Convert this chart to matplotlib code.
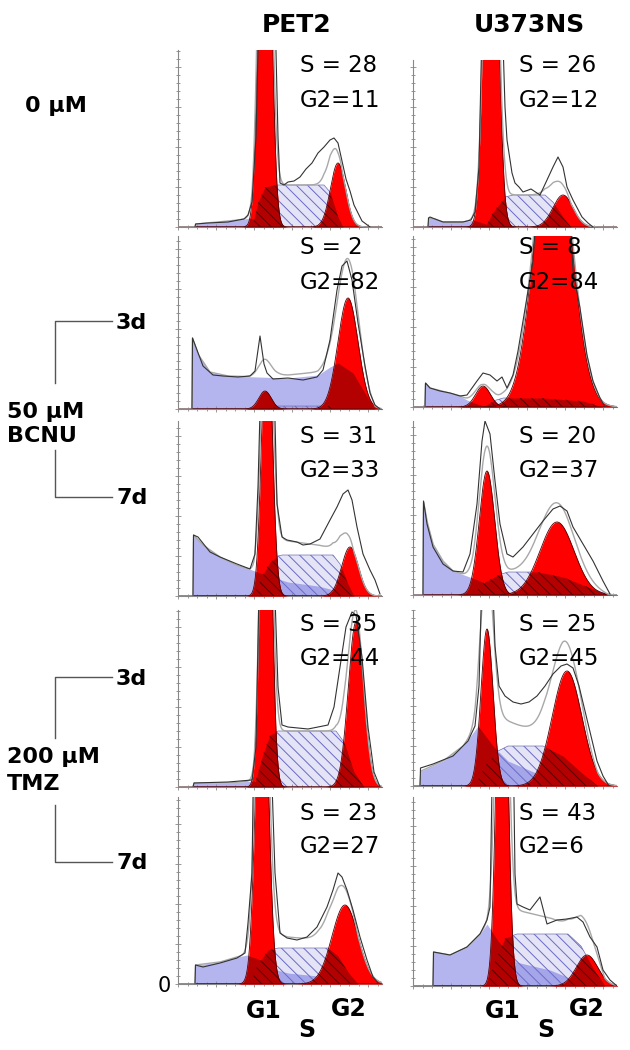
import numpy as np
import matplotlib
matplotlib.use('Agg')
import matplotlib.pyplot as plt
from matplotlib.ticker import MultipleLocator

plt.rcParams['font.family'] = ['DejaVu Sans']
plt.rcParams['hatch.linewidth'] = 0.7

# ---------------- data (x: channel, y: counts; panels in row-major order) ----
cell_lines = ['PET2', 'U373NS']
s_pct = [28, 26, 2, 8, 31, 20, 35, 25, 23, 43]
g2_pct = [11, 12, 82, 84, 33, 37, 44, 45, 27, 6]

g1_center = [87, 78, 87, 70, 89, 74, 88, 74, 84, 89]
g1_height = [540, 535, 18, 21, 290, 124, 500, 157, 374, 436]
g1_sigma = [5.3, 5.9, 6.2, 7.4, 5.0, 7.7, 4.8, 6.0, 5.8, 5.1]
g2_center = [160, 150, 170, 140, 172, 144, 178, 154, 167, 174]
g2_height = [64, 32, 111, 300, 49, 73, 165, 115, 79, 31]
g2_sigma = [7.5, 10, 10, 17.5, 8.3, 17, 7.7, 14.8, 13, 10.7]

debris_x = [
    [17, 18, 40, 60, 72, 85, 95],
    [15, 16, 22, 30, 50, 60, 70, 80],
    [14, 14.5, 20, 32, 50, 80, 110, 140, 152, 160, 175, 185, 197],
    [12, 12.5, 17, 37, 47, 54, 64, 75],
    [15, 15.5, 25, 42, 58, 74, 90, 110, 140, 160, 175],
    [10, 10.5, 14, 20, 30, 40, 54, 67, 80, 95],
    [15, 16, 50, 75, 88, 95],
    [7, 8, 30, 50, 65, 80, 95, 130, 160],
    [17, 17.5, 42, 59, 69, 80, 95, 110, 140, 155],
    [20, 20.5, 37, 54, 67, 74, 85, 103, 137, 154, 174, 180],
]
debris_y = [
    [0, 3, 5, 7, 9, 4, 0],
    [0, 9, 8, 5, 5, 7, 4, 0],
    [0, 71, 55, 37, 33, 32, 31, 34, 42, 46, 36, 19, 0],
    [0, 24, 19, 14, 11, 7, 3, 0],
    [0, 61, 51, 39, 31, 26, 20, 14, 10, 5, 0],
    [0, 94, 74, 51, 34, 24, 19, 14, 8, 0],
    [0, 4, 4, 6, 3, 0],
    [0, 15, 25, 40, 60, 40, 25, 10, 0],
    [0, 19, 22, 27, 29, 25, 15, 11, 8, 0],
    [0, 34, 31, 39, 52, 62, 45, 24, 16, 9, 2, 0],
]

sphase_x = [
    [74, 80, 87, 96, 146, 152, 160, 165],
    [72, 80, 92, 100, 132, 140, 150, 158],
    [90, 100, 150, 160],
    [70, 80, 90, 130, 170, 190],
    [76, 84, 92, 100, 104, 155, 162, 170, 176],
    [60, 70, 85, 95, 125, 150, 175, 195],
    [76, 84, 92, 100, 158, 166, 176, 186],
    [62, 72, 85, 95, 130, 150, 170, 185],
    [72, 80, 90, 100, 150, 160, 170, 180],
    [74, 82, 92, 104, 155, 168, 180, 192],
]
sphase_y = [
    [0, 25, 40, 42, 42, 35, 10, 0],
    [0, 15, 30, 32, 32, 25, 10, 0],
    [0, 3, 3, 0],
    [0, 6, 9, 9, 6, 0],
    [0, 20, 34, 40, 41, 41, 32, 12, 0],
    [0, 12, 20, 23, 23, 18, 8, 0],
    [0, 30, 52, 56, 56, 45, 15, 0],
    [0, 20, 35, 40, 40, 30, 12, 0],
    [0, 20, 34, 36, 36, 28, 12, 0],
    [0, 25, 48, 52, 52, 40, 18, 0],
]

raw_x = [
    [17, 17.5, 30, 50, 66, 70, 74, 78, 82, 96, 100, 102, 106, 110, 116, 122, 128, 134, 140, 146, 152, 156, 160, 164, 168, 172, 176, 180, 184, 188, 192],
    [15, 15.5, 17, 22, 30, 50, 58, 62, 66, 70, 88, 92, 94, 99, 102, 106, 110, 118, 127, 134, 140, 145, 150, 154, 160, 169, 175, 180],
    [14, 14.5, 19, 25, 35, 45, 60, 72, 77, 82, 86, 89, 95, 110, 125, 139, 145, 152, 159, 164, 169, 174, 180, 187, 192, 197, 202],
    [12, 12.5, 17, 27, 37, 47, 54, 64, 70, 77, 84, 89, 94, 100, 105, 110, 115, 120, 127, 154, 160, 167, 174, 180, 187, 192],
    [15, 15.5, 20, 32, 42, 59, 72, 77, 80, 84, 95, 99, 104, 109, 119, 125, 132, 142, 152, 159, 165, 170, 174, 179, 185, 192, 197, 202],
    [10, 10.5, 14, 20, 30, 40, 50, 57, 64, 69, 72, 77, 82, 87, 94, 100, 110, 120, 130, 140, 147, 154, 160, 170, 180, 190, 197],
    [15, 16, 50, 74, 78, 82, 95, 100, 104, 110, 130, 150, 156, 162, 168, 174, 178, 184, 190, 196, 202],
    [7, 7.5, 20, 40, 55, 62, 66, 70, 78, 82, 86, 92, 100, 108, 116, 124, 132, 140, 148, 154, 160, 166, 172, 178, 184, 190, 196],
    [17, 17.5, 25, 42, 59, 67, 70, 74, 76, 92, 97, 102, 109, 119, 129, 139, 149, 155, 160, 164, 169, 175, 182, 189, 195, 200],
    [20, 20.5, 37, 54, 67, 74, 77, 80, 100, 102, 104, 110, 117, 127, 134, 144, 154, 164, 170, 177, 184, 190, 197, 204],
]
raw_y = [
    [0, 3, 4, 5, 8, 12, 25, 90, 260, 260, 90, 44, 42, 45, 46, 50, 58, 64, 74, 80, 87, 89, 84, 66, 48, 36, 22, 14, 6, 3, 0],
    [0, 9, 10, 8, 5, 5, 7, 15, 60, 250, 250, 120, 87, 54, 44, 40, 35, 38, 32, 47, 60, 70, 60, 40, 27, 10, 4, 0],
    [0, 71, 59, 43, 34, 33, 32, 33, 38, 73, 45, 36, 30, 31, 29, 32, 39, 69, 119, 143, 148, 129, 86, 43, 16, 4, 0],
    [0, 24, 19, 16, 14, 11, 12, 26, 34, 32, 26, 30, 19, 32, 56, 86, 116, 146, 250, 250, 136, 99, 52, 26, 9, 0],
    [0, 61, 59, 44, 39, 32, 27, 42, 109, 260, 260, 92, 59, 56, 54, 51, 52, 57, 76, 89, 102, 106, 96, 69, 42, 26, 16, 2],
    [0, 94, 71, 48, 31, 24, 23, 41, 91, 154, 174, 161, 114, 71, 41, 38, 48, 61, 74, 86, 89, 84, 68, 51, 34, 14, 1],
    [0, 4, 5, 7, 40, 250, 250, 100, 62, 60, 58, 62, 80, 120, 160, 175, 172, 130, 60, 15, 0],
    [0, 18, 22, 30, 45, 60, 100, 250, 250, 140, 100, 90, 84, 82, 84, 90, 100, 112, 120, 122, 118, 100, 75, 50, 25, 10, 0],
    [0, 19, 17, 21, 26, 31, 61, 111, 260, 260, 111, 51, 46, 44, 47, 57, 77, 94, 111, 107, 94, 74, 47, 24, 7, 1],
    [0, 34, 31, 39, 52, 66, 79, 260, 260, 112, 82, 79, 76, 89, 62, 66, 67, 69, 64, 49, 39, 16, 6, 0],
]

# ---------------- layout (pixels in a 630 x 1050 canvas) --------------------
W, H = 630, 1050
col_x0 = [178, 413]
panel_w = 204
row_base = [[227, 227], [409, 407], [596, 595], [787, 786], [984, 986]]
row_top = [[50, 60], [236, 236], [421, 421], [610, 610], [797, 797]]
text_x = [300, 519]
text_s_y = [72, 254, 443, 631, 820]
text_g2_y = [107, 289, 477, 665, 853]

LAV = '#b4b4ef'
RED = '#ff0000'
DARK = '#a00000'
HATCH_C = '#6a6ac8'

fig = plt.figure(figsize=(W / 100, H / 100), dpi=100)
fig.patch.set_facecolor('white')

xg = np.linspace(0, panel_w, 900)

for i in range(10):
    r, c = divmod(i, 2)
    x0 = col_x0[c]
    base = row_base[r][c]
    top = row_top[r][c]
    ph = base - top
    ax = fig.add_axes([x0 / W, 1 - base / H, panel_w / W, ph / H])
    ax.set_xlim(0, panel_w)
    ax.set_ylim(0, ph)
    ax.patch.set_alpha(0)

    D = np.interp(xg, debris_x[i], debris_y[i], left=0, right=0)
    S = np.interp(xg, sphase_x[i], sphase_y[i], left=0, right=0)
    G1 = g1_height[i] * np.exp(-0.5 * ((xg - g1_center[i]) / g1_sigma[i]) ** 2)
    G2 = g2_height[i] * np.exp(-0.5 * ((xg - g2_center[i]) / g2_sigma[i]) ** 2)
    G = np.maximum(G1, G2)

    ax.fill_between(xg, 0, D, color=LAV, lw=0, zorder=1)
    ax.fill_between(xg, 0, S, facecolor=(0.35, 0.35, 0.8, 0.16), edgecolor=HATCH_C,
                    hatch='\\\\\\', lw=0, zorder=2)
    ax.plot(xg, S, color='#7070b0', lw=0.5, zorder=2)
    ax.fill_between(xg, 0, G1, color=RED, lw=0, zorder=3)
    ax.fill_between(xg, 0, G2, color=RED, lw=0, zorder=3)
    ov = np.minimum(G, np.maximum(D, S))
    ax.fill_between(xg, 0, ov, color=DARK, alpha=0.8, lw=0, zorder=4)
    ovs = np.minimum(G, S)
    ax.fill_between(xg, 0, ovs, facecolor='none', edgecolor='#5a0000',
                    hatch='\\\\\\', lw=0, zorder=4)
    ax.plot(xg, G1, color='#500000', lw=0.6, zorder=5)
    ax.plot(xg, G2, color='#500000', lw=0.6, zorder=5)

    fit = D + S + G1 + G2
    ax.plot(xg, fit, color='#a8a8a8', lw=1.0, zorder=6)
    ax.plot(raw_x[i], raw_y[i], color='#333333', lw=0.8, zorder=7)

    for sp in ['top', 'right']:
        ax.spines[sp].set_visible(False)
    for sp in ['left', 'bottom']:
        ax.spines[sp].set_color('#888888')
        ax.spines[sp].set_linewidth(0.8)
    ax.yaxis.set_major_locator(MultipleLocator(40))
    ax.yaxis.set_minor_locator(MultipleLocator(8))
    ax.xaxis.set_major_locator(MultipleLocator(38))
    ax.xaxis.set_minor_locator(MultipleLocator(9.5))
    ax.tick_params(which='both', direction='inout', colors='#888888',
                   labelleft=False, labelbottom=False, width=0.6)
    ax.tick_params(which='major', length=4)
    ax.tick_params(which='minor', length=2.5)

    ax.text(text_x[c] - x0, ph - (text_s_y[r] - top), f'S = {s_pct[i]}',
            fontsize=16.5, va='baseline', ha='left', zorder=10)
    ax.text(text_x[c] - x0, ph - (text_g2_y[r] - top), f'G2={g2_pct[i]}',
            fontsize=16.5, va='baseline', ha='left', zorder=10)

# ---------------- annotation overlay ---------------------------------------
ov_ax = fig.add_axes([0, 0, 1, 1])
ov_ax.set_xlim(0, W)
ov_ax.set_ylim(H, 0)
ov_ax.axis('off')
ov_ax.patch.set_alpha(0)

bold = dict(fontweight='bold', va='baseline')
ov_ax.text(297, 32, cell_lines[0], fontsize=18, ha='center', **bold)
ov_ax.text(529, 32, cell_lines[1], fontsize=18, ha='center', **bold)

ov_ax.text(25, 112, '0 \u03bcM', fontsize=16, ha='left', **bold)
ov_ax.text(7, 418, '50 \u03bcM', fontsize=16, ha='left', **bold)
ov_ax.text(7, 442, 'BCNU', fontsize=16, ha='left', **bold)
ov_ax.text(7, 763, '200 \u03bcM', fontsize=16, ha='left', **bold)
ov_ax.text(7, 790, 'TMZ', fontsize=16, ha='left', **bold)

ov_ax.text(116, 329, '3d', fontsize=16, ha='left', **bold)
ov_ax.text(116, 504, '7d', fontsize=16, ha='left', **bold)
ov_ax.text(116, 685, '3d', fontsize=16, ha='left', **bold)
ov_ax.text(116, 869, '7d', fontsize=16, ha='left', **bold)

lc = dict(color='#555555', lw=1.0)
ov_ax.plot([112, 55, 55], [321, 321, 383], **lc)
ov_ax.plot([55, 55, 112], [450, 497, 497], **lc)
ov_ax.plot([112, 55, 55], [677, 677, 738], **lc)
ov_ax.plot([55, 55, 112], [805, 862, 862], **lc)

ov_ax.text(164, 992, '0', fontsize=15, ha='center', va='baseline')
for gx, sx, g2x in [(264, 307, 349), (503, 546, 587)]:
    ov_ax.text(gx, 1018, 'G1', fontsize=17, ha='center', **bold)
    ov_ax.text(sx, 1037, 'S', fontsize=17, ha='center', **bold)
    ov_ax.text(g2x, 1016, 'G2', fontsize=17, ha='center', **bold)

fig.savefig('out.png', dpi=100, facecolor='white')
